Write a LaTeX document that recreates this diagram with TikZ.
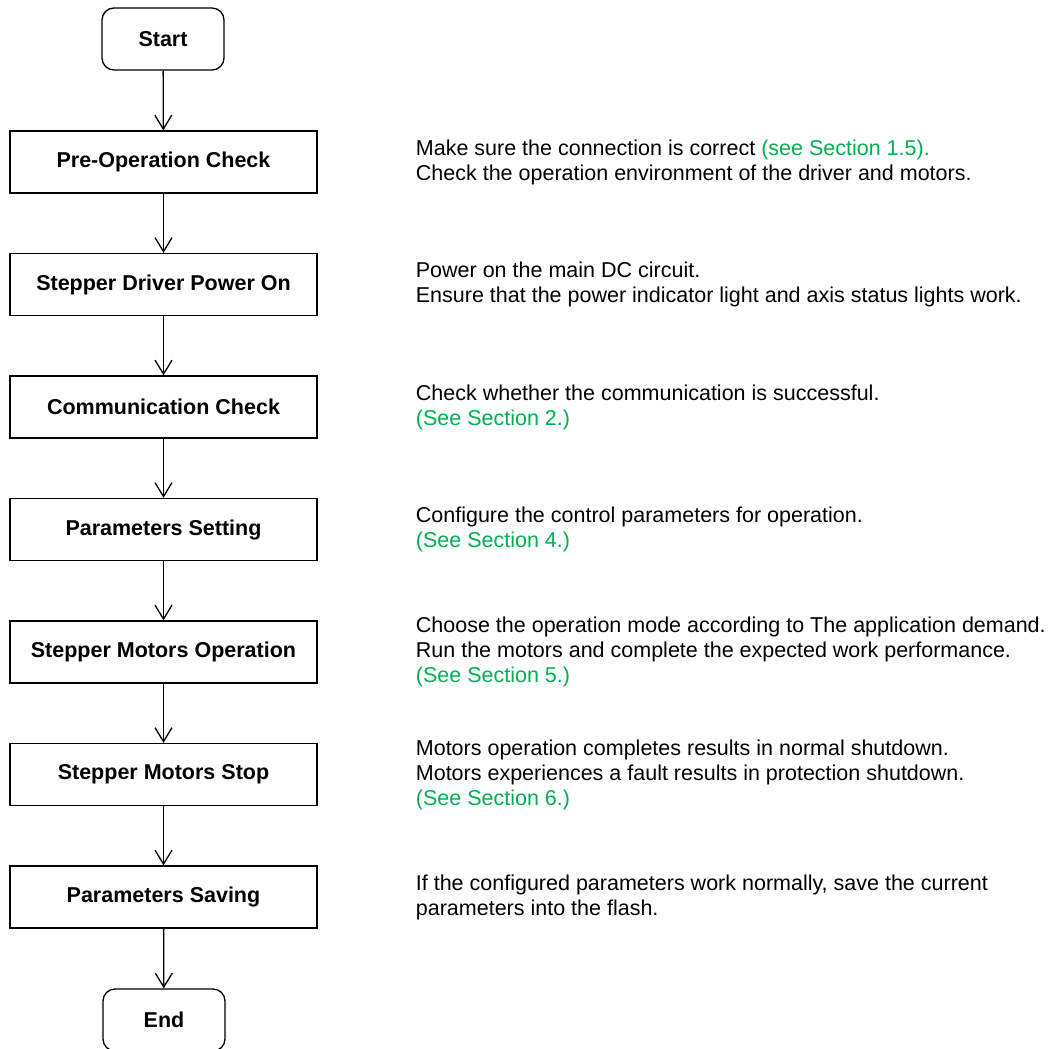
\documentclass[tikz,border=0pt]{standalone}
\usepackage{fontspec}
\setmainfont{Liberation Sans}
\usetikzlibrary{arrows.meta}
\definecolor{linkgreen}{RGB}{0,176,80}
\begin{document}
\begin{tikzpicture}[x=0.5pt,y=-0.5pt,
  every node/.style={font=\fontsize{10.75}{12.5}\selectfont},
  stepbox/.style={draw,line width=0.65pt,minimum width=153.5pt,minimum height=31pt,
    inner sep=0pt,font=\fontsize{10.75}{12.5}\selectfont\bfseries},
  termbox/.style={stepbox,rounded corners=6pt,minimum width=61pt},
  note/.style={anchor=west,align=left,inner sep=0pt},
  flow/.style={line width=0.65pt,-{Straight Barb[length=7pt,width=8.5pt,line width=0.65pt]}},
  ref/.style={text=linkgreen}]
  \useasboundingbox (0,0) rectangle (1050,1049);

  % flow chart column
  \node[termbox] (start) at (163,39) {Start};
  \node[stepbox] (s1) at (163.5,162) {Pre-Operation Check};
  \node[stepbox] (s2) at (163.5,284.5) {Stepper Driver Power On};
  \node[stepbox] (s3) at (163.5,407) {Communication Check};
  \node[stepbox] (s4) at (163.5,529.5) {Parameters Setting};
  \node[stepbox] (s5) at (163.5,652) {Stepper Motors Operation};
  \node[stepbox] (s6) at (163.5,774.5) {Stepper Motors Stop};
  \node[stepbox] (s7) at (163.5,897) {Parameters Saving};
  \node[termbox] (end) at (164,1020) {End};

  \draw[flow] (start) -- (s1);
  \draw[flow] (s1) -- (s2);
  \draw[flow] (s2) -- (s3);
  \draw[flow] (s3) -- (s4);
  \draw[flow] (s4) -- (s5);
  \draw[flow] (s5) -- (s6);
  \draw[flow] (s6) -- (s7);
  \draw[flow] (s7) -- (end);

  % explanations beside each step
  \node[note] (n1) at (415.5,162) {Make sure the connection is correct \textcolor{linkgreen}{(see Section 1.5).}\\
    Check the operation environment of the driver and motors.};
  \node[note] (n2) at (415.5,284.5) {Power on the main DC circuit.\\
    Ensure that the power indicator light and axis status lights work.};
  \node[note] (n3) at (415.5,407) {Check whether the communication is successful.\\
    \textcolor{linkgreen}{(See Section 2.)}};
  \node[note] (n4) at (415.5,529.5) {Configure the control parameters for operation.\\
    \textcolor{linkgreen}{(See Section 4.)}};
  \node[note] (n5) at (415.5,652) {Choose the operation mode according to The application demand.\\
    Run the motors and complete the expected work performance.\\
    \textcolor{linkgreen}{(See Section 5.)}};
  \node[note] (n6) at (415.5,774.5) {Motors operation completes results in normal shutdown.\\
    Motors experiences a fault results in protection shutdown.\\
    \textcolor{linkgreen}{(See Section 6.)}};
  \node[note] (n7) at (415.5,897) {If the configured parameters work normally, save the current\\
    parameters into the flash.};
\end{tikzpicture}
\end{document}
